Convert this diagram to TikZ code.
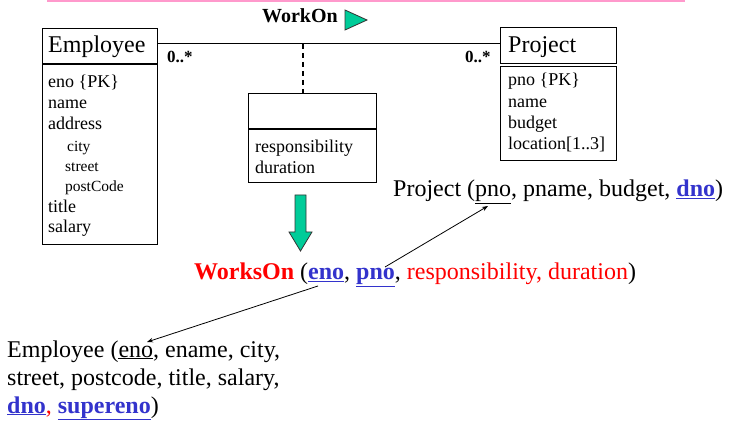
\documentclass[tikz,border=0pt]{standalone}
\usepackage{fontspec}
\setmainfont{Liberation Serif}
\usetikzlibrary{arrows.meta}
\definecolor{pinkline}{RGB}{255,153,204}
\definecolor{relblue}{RGB}{51,51,204}
\definecolor{relred}{RGB}{255,0,0}
\definecolor{arrgreen}{RGB}{0,204,153}
\newcommand{\fsz}[1]{\fontsize{#1}{#1}\selectfont}
\newcommand{\bk}[1]{\textcolor{relblue}{\textbf{\underline{#1}}}}
\begin{document}
\begin{tikzpicture}[x=1pt,y=-1pt,
  box/.style={draw, line width=1pt, anchor=north west, inner sep=0},
  txt/.style={anchor=base west, inner sep=0},
  head/.style={txt, font=\fsz{24}},
  attr/.style={txt, font=\fsz{18}},
  sub/.style={txt, font=\fsz{15.5}},
  mult/.style={txt, font=\fsz{17}\bfseries},
  rel/.style={txt, font=\fsz{24}},
  thin arrow/.style={-{Stealth[length=6pt,width=4.5pt]}, line width=0.8pt},
  green shape/.style={fill=arrgreen, draw=black!80, line width=0.8pt}
]
\useasboundingbox (0,0) rectangle (731,430);
% top pink rule
\draw[pinkline, line width=3pt] (47,1) -- (685,1);

% Employee class
\node[box, minimum width=115pt, minimum height=36pt] (emphead) at (42,28) {};
\node[box, minimum width=115pt, minimum height=180pt] (empattr) at (42,64) {};
\draw[line width=2.5pt] (empattr.north west) -- (empattr.north east);
\node[head] (empname) at (48,53) {Employee};
\node[attr] (e1) at (48,88) {eno \{PK\}};
\node[attr] (e2) at (48,109) {name};
\node[attr] (e3) at (48,130) {address};
\node[sub] (e4) at (67,152) {city};
\node[sub] (e5) at (65,172) {street};
\node[sub] (e6) at (65,192) {postCode};
\node[attr] (e7) at (48,213) {title};
\node[attr] (e8) at (48,233) {salary};

% Project class
\node[box, minimum width=116pt, minimum height=36pt] (prjhead) at (500,27) {};
\node[box, minimum width=116pt, minimum height=94pt] (prjattr) at (500,66) {};
\node[head] (prjname) at (508,53) {Project};
\node[attr] (p1) at (508,86) {pno \{PK\}};
\node[attr] (p2) at (508,108) {name};
\node[attr] (p3) at (508,129) {budget};
\node[attr] (p4) at (508,150) {location[1..3]};

% association
\draw[line width=1pt] (emphead.east |- 0,44) -- (prjhead.west |- 0,44);
\node[mult] (m1) at (167,63) {0..*};
\node[mult] (m2) at (465,63) {0..*};
\node[txt, font=\fsz{20}\bfseries] (wo) at (262,23) {WorkOn};
\draw[green shape] (345,10) -- (367,20) -- (345,30) -- cycle;

% association class
\node[box, minimum width=128pt, minimum height=89pt] (acls) at (248,93) {};
\draw[line width=2pt] (248,129) -- (376,129);
\node[attr] (a1) at (255,153) {responsibility};
\node[attr] (a2) at (255,174) {duration};
\coordinate (dtop) at (303,44);
\draw[line width=2pt, dash pattern=on 5pt off 4pt] (dtop) -- (acls.north -| dtop);

% big green arrow
\draw[green shape] (295,195) -- (306,195) -- (306,232) -- (312,232) -- (300.5,251) -- (289,232) -- (295,232) -- cycle;

% relations
\node[rel] (prel) at (393,197) {Project (\underline{pno}, pname, budget, \bk{dno})};
\node[rel] (wrel) at (194,280) {\textcolor{relred}{\textbf{WorksOn}} (\bk{eno}, \bk{pno}, \textcolor{relred}{responsibility, duration})};
\node[rel] (erel1) at (7,357) {Employee (\underline{eno}, ename, city,};
\node[rel] (erel2) at (7,385) {street, postcode, title, salary,};
\node[rel] (erel3) at (7,413) {\bk{dno}\textcolor{relred}{,} \bk{supereno})};

% foreign key arrows
\coordinate (wpno) at (385,267);
\coordinate (ppno) at (488,206);
\coordinate (weno) at (318,286);
\coordinate (eeno) at (147,342);
\draw[thin arrow] (wpno) -- (ppno);
\draw[thin arrow] (weno) -- (eeno);
\end{tikzpicture}
\end{document}
